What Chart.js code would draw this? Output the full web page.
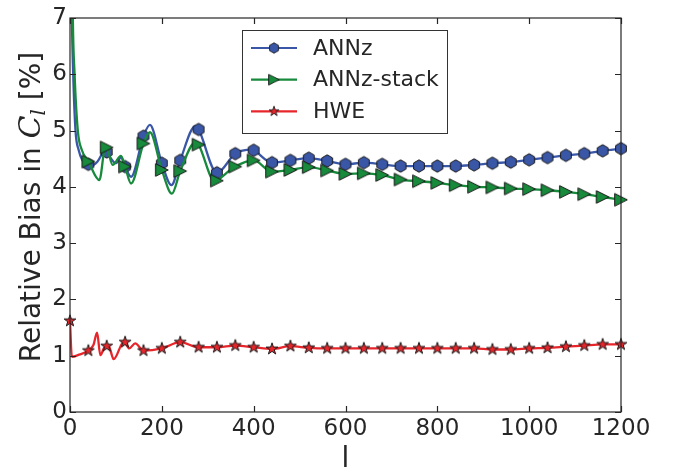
<!DOCTYPE html>
<html>
<head>
<meta charset="utf-8">
<script src="https://cdn.jsdelivr.net/npm/chart.js@4.4.1/dist/chart.umd.min.js"></script>
<style>
  html, body { margin: 0; padding: 0; background: #fff; }
</style>
</head>
<body>
<canvas id="biasChart" width="676" height="469"></canvas>
<script>
// Multipoles where the markers sit
const markerL = [0, 40, 80, 120, 160, 200, 240, 280, 320, 360, 400, 440, 480, 520, 560,
  600, 640, 680, 720, 760, 800, 840, 880, 920, 960, 1000, 1040, 1080, 1120, 1160, 1200];

// Relative bias (%) at the marker multipoles
const annzMarks = [null, 4.40, 4.62, 4.36, 4.90, 4.42, 4.47, 5.02, 4.25, 4.59, 4.65, 4.43, 4.47, 4.51, 4.46,
  4.40, 4.43, 4.40, 4.37, 4.37, 4.37, 4.37, 4.39, 4.42, 4.44, 4.48, 4.52, 4.56, 4.59, 4.64, 4.68];
const stackMarks = [null, 4.45, 4.70, 4.36, 4.77, 4.30, 4.28, 4.75, 4.11, 4.36, 4.47, 4.27, 4.30, 4.35, 4.29,
  4.23, 4.24, 4.21, 4.13, 4.10, 4.07, 4.03, 4.00, 3.99, 3.97, 3.96, 3.94, 3.91, 3.87, 3.82, 3.77];
const hweMarks = [1.62, 1.09, 1.17, 1.24, 1.09, 1.13, 1.24, 1.15, 1.15, 1.18, 1.15, 1.12, 1.17, 1.14, 1.13,
  1.13, 1.13, 1.13, 1.13, 1.13, 1.13, 1.13, 1.13, 1.11, 1.11, 1.13, 1.14, 1.16, 1.18, 1.20, 1.20];

// Extra points of the continuous curves between markers (low-l wiggles)
const annzWiggleL = [0, 4, 7, 12, 19, 27, 48, 60, 77, 100, 111, 133, 174, 221, 273, 395];
const annzWiggleV = [11, 7.1, 6.0, 5.0, 4.65, 4.47, 4.38, 4.45, 4.65, 4.42, 4.52, 4.18, 5.10, 4.03, 5.08, 4.66];
const stackWiggleL = [0, 6, 10, 17, 26, 64, 77, 93, 111, 133, 174, 222, 274, 316];
const stackWiggleV = [13, 7.1, 6.0, 5.0, 4.65, 4.12, 4.71, 4.39, 4.55, 4.06, 4.97, 3.88, 4.80, 4.09];
const hweWiggleL = [4, 20, 51, 59, 66, 75, 85, 95, 118, 129, 142];
const hweWiggleV = [0.98, 1.02, 1.19, 1.41, 1.01, 1.15, 1.16, 0.94, 1.26, 1.13, 1.22];

const xTicks = [0, 200, 400, 600, 800, 1000, 1200];
const yTicks = [0, 1, 2, 3, 4, 5, 6, 7];

const blue = '#3a57a7';
const green = '#178a3b';
const red = '#e6262b';
const ink = '#262626';

// marker points as {x, y}
function markerPoints(values) {
  const pts = [];
  markerL.forEach((l, i) => {
    if (values[i] !== null) pts.push({ x: l, y: values[i] });
  });
  return pts;
}

// smooth curve = markers + in-between points, sorted by l
function curvePoints(values, wl, wv) {
  const pts = markerPoints(values);
  wl.forEach((l, i) => pts.push({ x: l, y: wv[i] }));
  return pts.sort((a, b) => a.x - b.x);
}

// Marker sprites (Chart.js has no hexagon / right triangle / filled star)
function makeMarker(size, fill, shape) {
  const c = document.createElement('canvas');
  c.width = size;
  c.height = size;
  const ctx = c.getContext('2d');
  ctx.translate(size / 2, size / 2);
  ctx.beginPath();
  shape(ctx);
  ctx.closePath();
  ctx.fillStyle = fill;
  ctx.fill();
  ctx.lineWidth = 1;
  ctx.strokeStyle = '#1a1a1a';
  ctx.stroke();
  return c;
}

const hexagon = makeMarker(16, blue, (ctx) => {
  const r = 6.2;
  for (let k = 0; k < 6; k++) {
    const a = -Math.PI / 2 + k * Math.PI / 3;
    ctx.lineTo(r * Math.cos(a), r * Math.sin(a));
  }
});
const triangle = makeMarker(16, green, (ctx) => {
  const r = 6.3;
  ctx.moveTo(r, 0);
  ctx.lineTo(-r, -r);
  ctx.lineTo(-r, r);
});
const star = makeMarker(16, red, (ctx) => {
  const ro = 6.2, ri = 6.2 * 0.382;
  for (let k = 0; k < 10; k++) {
    const a = -Math.PI / 2 + k * Math.PI / 5;
    const r = k % 2 === 0 ? ro : ri;
    ctx.lineTo(r * Math.cos(a), r * Math.sin(a));
  }
});

const series = [
  { label: 'ANNz', color: blue, marker: hexagon },
  { label: 'ANNz-stack', color: green, marker: triangle },
  { label: 'HWE', color: red, marker: star }
];

// Frame box with inward ticks on all four sides
const frameTicks = {
  id: 'frameTicks',
  afterDatasetsDraw(chart) {
    const { ctx, chartArea: a, scales } = chart;
    const len = 6;
    ctx.save();
    ctx.strokeStyle = ink;
    ctx.lineWidth = 1.2;
    ctx.strokeRect(a.left, a.top, a.right - a.left, a.bottom - a.top);
    ctx.beginPath();
    xTicks.forEach((v) => {
      const px = Math.round(scales.x.getPixelForValue(v)) + 0.5;
      ctx.moveTo(px, a.bottom); ctx.lineTo(px, a.bottom - len);
      ctx.moveTo(px, a.top); ctx.lineTo(px, a.top + len);
    });
    yTicks.forEach((v) => {
      const py = Math.round(scales.y.getPixelForValue(v)) + 0.5;
      ctx.moveTo(a.left, py); ctx.lineTo(a.left + len, py);
      ctx.moveTo(a.right, py); ctx.lineTo(a.right - len, py);
    });
    ctx.stroke();
    ctx.restore();
  }
};

// Axis titles and the boxed legend
const labelsAndLegend = {
  id: 'labelsAndLegend',
  afterDraw(chart) {
    const { ctx, chartArea: a } = chart;
    ctx.save();
    ctx.fillStyle = ink;

    // y title with C_l in math italics
    const parts = [
      { t: 'Relative Bias in ', f: '28px "DejaVu Sans"', dy: 0 },
      { t: 'C', f: 'italic 30px "DejaVu Serif"', dy: 0 },
      { t: 'l', f: 'italic 20px "DejaVu Serif"', dy: 5 },
      { t: ' [%]', f: '28px "DejaVu Sans"', dy: 0 }
    ];
    let total = 0;
    parts.forEach((p) => { ctx.font = p.f; total += ctx.measureText(p.t).width; });
    ctx.translate(40, 207);
    ctx.rotate(-Math.PI / 2);
    ctx.textBaseline = 'alphabetic';
    let x = -total / 2;
    parts.forEach((p) => {
      ctx.font = p.f;
      ctx.fillText(p.t, x, p.dy);
      x += ctx.measureText(p.t).width;
    });
    ctx.setTransform(1, 0, 0, 1, 0, 0);

    // x title
    ctx.font = '28px "DejaVu Sans"';
    ctx.textAlign = 'center';
    ctx.fillText('l', (a.left + a.right) / 2, 467);

    // legend box
    const bx = 242.5, by = 30.5, bw = 205, bh = 103;
    ctx.fillStyle = '#fff';
    ctx.fillRect(bx, by, bw, bh);
    ctx.strokeStyle = '#333';
    ctx.lineWidth = 1;
    ctx.strokeRect(bx, by, bw, bh);
    ctx.textAlign = 'left';
    ctx.textBaseline = 'middle';
    ctx.font = '22px "DejaVu Sans"';
    series.forEach((s, i) => {
      const ry = 48 + i * 31.7;
      ctx.strokeStyle = s.color;
      ctx.lineWidth = 2.2;
      ctx.beginPath();
      ctx.moveTo(251, ry);
      ctx.lineTo(297, ry);
      ctx.stroke();
      const m = s.marker, sc = 0.85;
      ctx.drawImage(m, 274 - m.width * sc / 2, ry - m.height * sc / 2, m.width * sc, m.height * sc);
      ctx.fillStyle = ink;
      ctx.fillText(s.label, 313, ry + 1);
    });
    ctx.restore();
  }
};

Chart.defaults.font.family = '"DejaVu Sans", sans-serif';
Chart.defaults.color = ink;

const lineOpts = (color, order) => ({
  type: 'line',
  borderColor: color,
  borderWidth: 2.3,
  pointRadius: 0,
  cubicInterpolationMode: 'monotone',
  order: order
});
const markOpts = (marker, order) => ({
  type: 'line',
  showLine: false,
  pointStyle: marker,
  pointRadius: 7,
  clip: false,
  order: order
});

new Chart(document.getElementById('biasChart'), {
  type: 'line',
  data: {
    datasets: [
      { label: 'ANNz', data: curvePoints(annzMarks, annzWiggleL, annzWiggleV), ...lineOpts(blue, 6) },
      { label: 'ANNz', data: markerPoints(annzMarks), ...markOpts(hexagon, 5) },
      { label: 'ANNz-stack', data: curvePoints(stackMarks, stackWiggleL, stackWiggleV), ...lineOpts(green, 4) },
      { label: 'ANNz-stack', data: markerPoints(stackMarks), ...markOpts(triangle, 3) },
      { label: 'HWE', data: curvePoints(hweMarks, hweWiggleL, hweWiggleV), ...lineOpts(red, 2) },
      { label: 'HWE', data: markerPoints(hweMarks), ...markOpts(star, 1) }
    ]
  },
  options: {
    responsive: false,
    animation: false,
    layout: { padding: { top: 18, right: 55, left: 0, bottom: 0 } },
    plugins: { legend: { display: false }, tooltip: { enabled: false } },
    scales: {
      x: {
        type: 'linear',
        min: 0,
        max: 1200,
        afterFit: (scale) => { scale.height = 57; },
        afterBuildTicks: (scale) => { scale.ticks = xTicks.map((v) => ({ value: v })); },
        ticks: { font: { size: 23 }, padding: 3, maxRotation: 0, callback: (v) => String(v) },
        grid: { display: false, drawTicks: false },
        border: { display: false }
      },
      y: {
        min: 0,
        max: 7,
        afterFit: (scale) => { scale.width = 70; },
        afterBuildTicks: (scale) => { scale.ticks = yTicks.map((v) => ({ value: v })); },
        ticks: { font: { size: 23 }, padding: 3, callback: (v) => String(v) },
        grid: { display: false, drawTicks: false },
        border: { display: false }
      }
    }
  },
  plugins: [frameTicks, labelsAndLegend]
});
</script>
</body>
</html>
